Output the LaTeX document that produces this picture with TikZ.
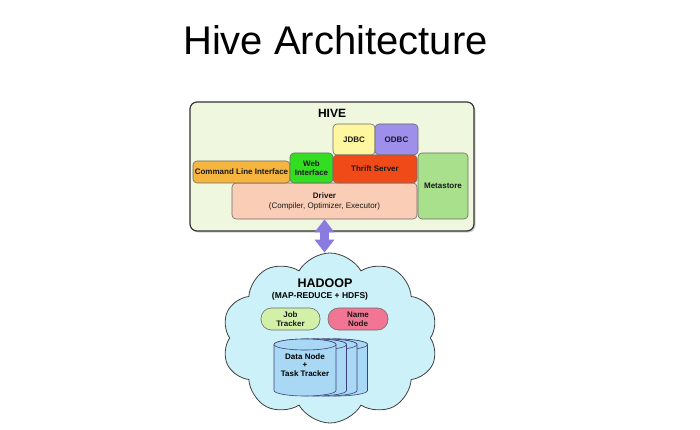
\documentclass[tikz,border=0pt]{standalone}
\usepackage{fontspec}
\setmainfont{Liberation Sans}
\usetikzlibrary{shapes.symbols,shadows,arrows.meta}

\definecolor{hivebg}{HTML}{EFF7DE}
\definecolor{jdbcyellow}{HTML}{FFF6A0}
\definecolor{odbcpurple}{HTML}{9D8FEA}
\definecolor{clionrange}{HTML}{F5B53F}
\definecolor{webgreen}{HTML}{33DD22}
\definecolor{thriftred}{HTML}{F04A18}
\definecolor{metagreen}{HTML}{A8E08C}
\definecolor{driversalmon}{HTML}{F9CDB6}
\definecolor{linkpurple}{HTML}{8A7BE0}
\definecolor{cloudblue}{HTML}{CCF1F8}
\definecolor{jobgreen}{HTML}{D3F0A8}
\definecolor{namepink}{HTML}{F27593}
\definecolor{diskblue}{HTML}{A8D8F3}

\begin{document}
\begin{tikzpicture}[x=1pt,y=-1pt,
  box/.style={draw=gray!85!black, line width=0.6pt, rounded corners=4pt, inner sep=0pt,
    align=center, text=black!90, font=\fontsize{8}{9}\selectfont\bfseries},
  pill/.style={box, rounded corners=10.5pt},
  disk/.style={draw=blue!30!black!75, line width=0.6pt, fill=diskblue},
  link/.style={draw=linkpurple, line width=9pt,
    {Triangle[length=13pt,width=19pt]}-{Triangle[length=13pt,width=19pt]}}]

\fill[white] (0,0) rectangle (700,430);
\useasboundingbox (0,0) rectangle (700,430);

% title
\node[anchor=base] (title) at (335.5,55) {\fontsize{40}{48}\selectfont Hive Architecture};

% hive
\node[draw=black!80, line width=1.2pt, rounded corners=7pt, fill=hivebg, minimum width=284pt,
  minimum height=129pt, drop shadow={shadow xshift=1.5pt, shadow yshift=-1.5pt, opacity=0.35}]
  (hive) at (332,166.5) {};
\node[anchor=base, font=\fontsize{12}{14}\selectfont\bfseries] (hivelabel) at (332,118) {HIVE};

\node[box, fill=driversalmon, minimum width=185pt, minimum height=36pt] (driver) at (324.5,201)
  {Driver\\[1pt]\mdseries (Compiler, Optimizer, Executor)};
\node[box, fill=jdbcyellow, minimum width=42pt, minimum height=31pt] (jdbc) at (354,139.5) {JDBC};
\node[box, fill=odbcpurple, minimum width=43pt, minimum height=31pt] (odbc) at (396.5,139.5) {ODBC};
\node[box, fill=clionrange, minimum width=97pt, minimum height=22pt] (cli) at (241.5,172) {Command Line Interface};
\node[box, fill=webgreen, minimum width=43pt, minimum height=30pt] (web) at (311.5,168) {Web\\Interface};
\node[box, fill=thriftred, minimum width=84pt, minimum height=28pt] (thrift) at (375,169) {Thrift Server};
\node[box, fill=metagreen, minimum width=50pt, minimum height=66pt] (meta) at (443,186) {Metastore};

% hadoop
\node[cloud, cloud puffs=10, cloud puff arc=120, aspect=1.27, draw=black!75, line width=0.8pt,
  fill=cloudblue, minimum width=216pt, minimum height=170pt] (hadoop) at (330,338) {};
\node[font=\fontsize{12.5}{14}\selectfont\bfseries] (hadooplabel) at (325,283) {HADOOP};
\node[font=\fontsize{8.5}{10}\selectfont\bfseries] (hadoopsub) at (320,296) {(MAP-REDUCE + HDFS)};

\node[pill, fill=jobgreen, minimum width=59pt, minimum height=22pt] (job) at (290.5,319) {Job\\Tracker};
\node[pill, fill=namepink, minimum width=60pt, minimum height=22pt] (name) at (358,319) {Name\\Node};

% data nodes, back to front
\foreach \cx in {336.5,326,315.5,305} {
  \filldraw[disk] (\cx-31,344.5) -- (\cx-31,390.5) arc (180:0:31 and 5.5)
    -- (\cx+31,344.5) arc (360:180:31 and 5.5) -- cycle;
  \filldraw[disk] (\cx,344.5) ellipse (31 and 5.5);
}
\node[align=center, font=\fontsize{8}{8.5}\selectfont\bfseries] (data) at (305,365)
  {Data Node\\+\\Task Tracker};

% link
\draw[link] (driver.south) -- (driver.south |- hadoop.north);
\end{tikzpicture}
\end{document}
